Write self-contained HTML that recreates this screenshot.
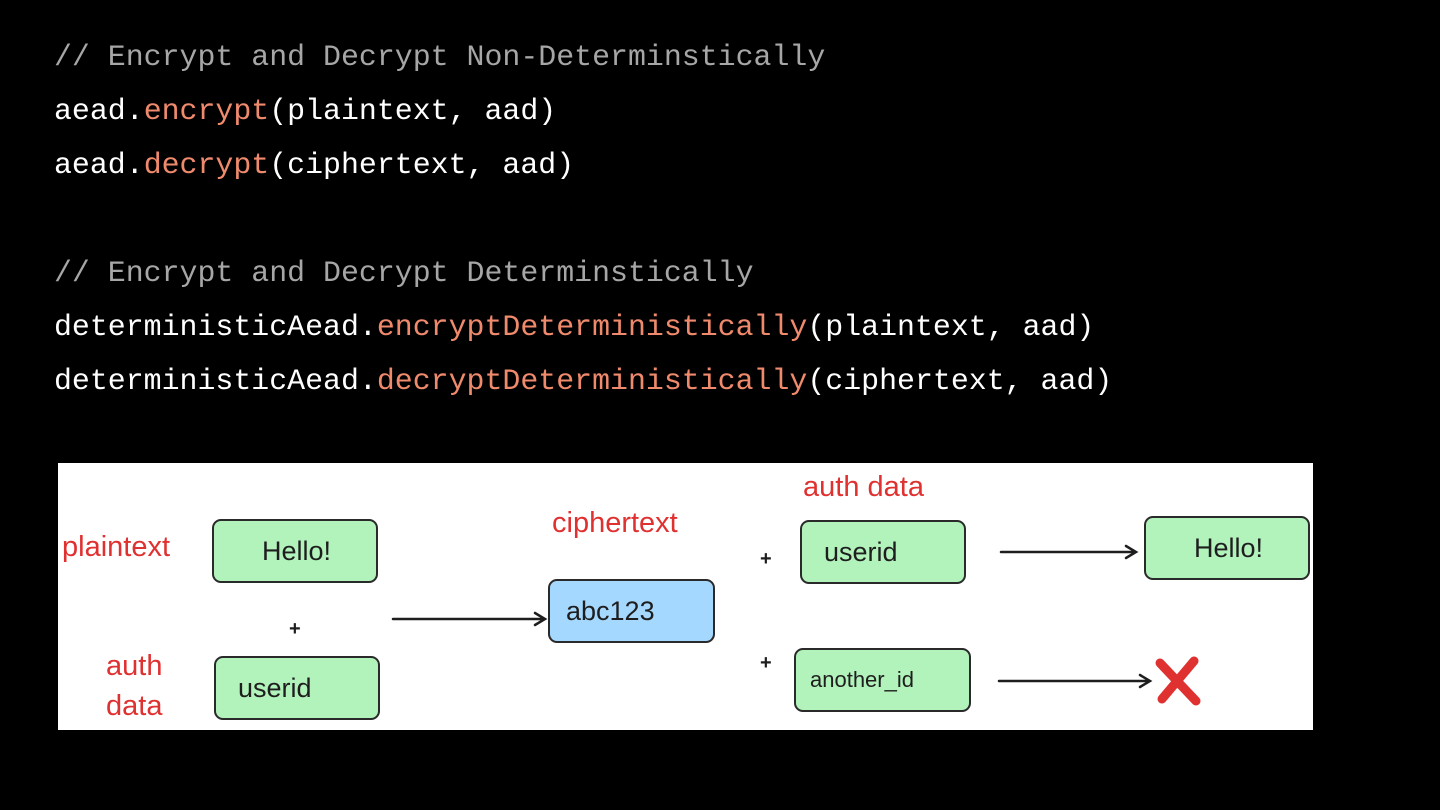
<!DOCTYPE html>
<html><head><meta charset="utf-8"><style>
body{margin:0;width:1440px;height:810px;background:#000;overflow:hidden;position:relative;font-family:"Liberation Mono",monospace}
.l{position:absolute;left:54px;font-size:29.9px;color:#fff;white-space:pre;line-height:36px}
.c{color:#a6a6a6}.o{color:#f08a6c}
.d{position:absolute;left:58px;top:463px;width:1255px;height:267px;background:#fff}
.b{position:absolute;border:2px solid #2a2a2a;border-radius:9px;background:#b2f2bb;font-family:"Comic Sans MS","Liberation Sans",sans-serif;font-size:27px;color:#1e1e1e;box-sizing:border-box;padding-left:22px;display:flex;align-items:center}
.r{position:absolute;color:#e03131;font-family:"Liberation Sans",sans-serif;font-size:29px;line-height:40px}
.p{position:absolute;font:bold 20px "Liberation Sans",sans-serif;color:#1e1e1e}
</style></head><body>
<div class="l c" style="top:39px">// Encrypt and Decrypt Non-Determinstically</div>
<div class="l" style="top:93px">aead.<span class="o">encrypt</span>(plaintext, aad)</div>
<div class="l" style="top:147px">aead.<span class="o">decrypt</span>(ciphertext, aad)</div>
<div class="l c" style="top:255px">// Encrypt and Decrypt Determinstically</div>
<div class="l" style="top:309px">deterministicAead.<span class="o">encryptDeterministically</span>(plaintext, aad)</div>
<div class="l" style="top:363px">deterministicAead.<span class="o">decryptDeterministically</span>(ciphertext, aad)</div>
<div class="d">
<div class="r" style="left:4px;top:64px">plaintext</div>
<div class="r" style="left:48px;top:183px">auth<br>data</div>
<div class="r" style="left:494px;top:40px">ciphertext</div>
<div class="r" style="left:745px;top:4px">auth data</div>
<div class="b" style="left:154px;top:56px;width:166px;height:64px;padding-left:48px">Hello!</div>
<div class="b" style="left:156px;top:193px;width:166px;height:64px">userid</div>
<div class="b" style="left:490px;top:116px;width:167px;height:64px;background:#a5d8ff;padding-left:16px">abc123</div>
<div class="b" style="left:742px;top:57px;width:166px;height:64px">userid</div>
<div class="b" style="left:736px;top:185px;width:177px;height:64px;font-size:22px;padding-left:14px">another_id</div>
<div class="b" style="left:1086px;top:53px;width:166px;height:64px;padding-left:48px">Hello!</div>
<div class="p" style="left:231px;top:155px">+</div>
<div class="p" style="left:702px;top:85px">+</div>
<div class="p" style="left:702px;top:189px">+</div>
<svg width="1255" height="267" style="position:absolute;left:0;top:0" fill="none" stroke="#1e1e1e" stroke-width="2.5" stroke-linecap="round">
<path d="M335 156 L487 156 M477 150 L487 156 L477 162"/>
<path d="M943 89 L1078 89 M1068 83 L1078 89 L1068 95"/>
<path d="M941 218 L1092 218 M1082 212 L1092 218 L1082 224"/>
<path d="M1102 200 L1138 238 M1136 198 L1104 236" stroke="#e03131" stroke-width="9"/>
</svg>
</div>
</body></html>
